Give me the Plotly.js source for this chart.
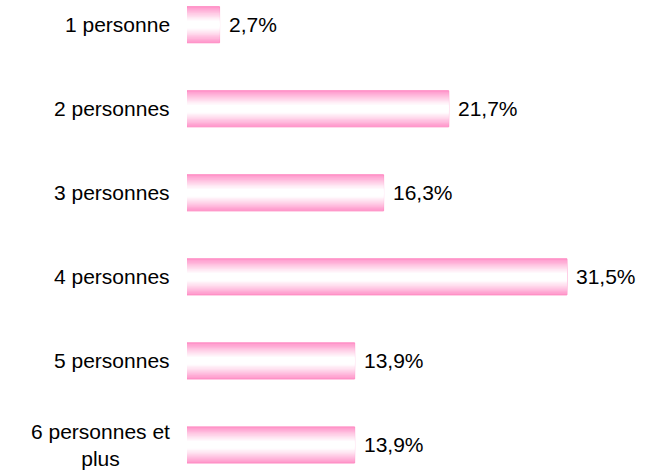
<!DOCTYPE html>
<html>
<head>
<meta charset="utf-8">
<script src="https://cdn.plot.ly/plotly-3.0.1.min.js"></script>
<style>html,body{margin:0;padding:0;background:#fff;}#chart{width:651px;height:471px;}</style>
</head>
<body>
<div id="chart"></div>
<script>
// Data
const categories = ["1 personne", "2 personnes", "3 personnes", "4 personnes", "5 personnes", "6 personnes et<br>plus"];
const values = [2.7, 21.7, 16.3, 31.5, 13.9, 13.9];

// Style
const FONT = "Arial, 'Liberation Sans', sans-serif";
const FS = 21;
const BAR_W = 0.43;
const LAYERS = 14;
const PINK = [255, 153, 204];
const WHITE = [255, 255, 255];

function mix(a, b, t) {
  return 'rgb(' + a.map((v, i) => Math.round(v + (b[i] - v) * t)).join(',') + ')';
}

const traces = [];
for (let k = 0; k < LAYERS; k++) {
  const f = 1 - k / LAYERS; // half-extent fraction
  let t = Math.max(0, Math.min(1, (f - 0.22) / 0.78));
  t = Math.pow(t, 1.1);
  traces.push({
    type: 'bar',
    orientation: 'h',
    x: values,
    y: categories,
    width: BAR_W * f,
    marker: {
      color: mix(WHITE, PINK, t),
      line: k === 0 ? {color: 'rgb(255,140,195)', width: 1} : {width: 0}
    },
    hoverinfo: 'skip',
    showlegend: false
  });
}

const fmt = v => v.toFixed(1).replace('.', ',') + '%';

const annotations = [];
categories.forEach((c, i) => {
  annotations.push({
    x: 0, y: c, xref: 'x', yref: 'y',
    text: c, showarrow: false, xanchor: 'right', yanchor: 'middle',
    align: 'center', xshift: -15,
    font: {family: FONT, size: FS, color: '#000'}
  });
  annotations.push({
    x: values[i], y: c, xref: 'x', yref: 'y',
    text: fmt(values[i]), showarrow: false, xanchor: 'left', yanchor: 'middle',
    xshift: 7,
    font: {family: FONT, size: FS, color: '#000'}
  });
});

const layout = {
  width: 651, height: 471,
  margin: {l: 187, r: 0, t: 0, b: 0},
  paper_bgcolor: '#fff', plot_bgcolor: '#fff',
  barmode: 'overlay',
  showlegend: false,
  xaxis: {range: [0, 38.47], visible: false, fixedrange: true},
  yaxis: {type: 'category', categoryorder: 'array', categoryarray: categories,
          range: [5.31, -0.294], showticklabels: false, showgrid: false,
          zeroline: false, showline: false, ticks: '', fixedrange: true},
  annotations: annotations,
  font: {family: FONT, size: FS, color: '#000'}
};

Plotly.newPlot('chart', traces, layout, {displayModeBar: false, staticPlot: true});
</script>
</body>
</html>
